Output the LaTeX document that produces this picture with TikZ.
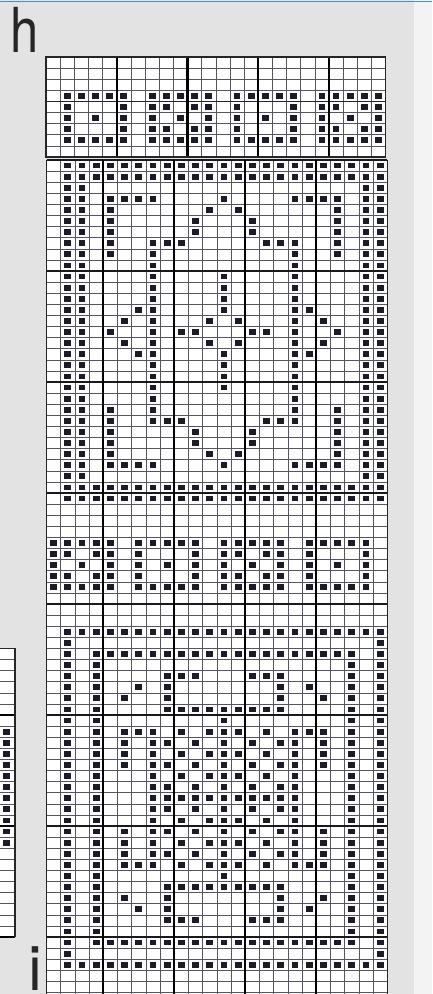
\documentclass[tikz,border=0pt]{standalone}
\usepackage{fontspec}
\setmainfont{TeX Gyre Heros}
\usepackage{xcolor}
\usepackage{tikz}
\definecolor{cInk}{HTML}{1C1C28}
\definecolor{cPaper}{HTML}{E3E3E3}
\definecolor{cRule}{HTML}{55555F}
\definecolor{cScan}{HTML}{4A90C8}
\tikzset{
  gline/.style={draw=cRule,line width=0.6pt},
  mline/.style={draw=black!85,line width=1.2pt},
  hline/.style={draw=black!90,line width=1.5pt},
  tline/.style={draw=black,line width=2.2pt},
  st/.style={fill=cInk},
  gridbox/.style={fill=white},
  lettr/.style={font=\fontsize{62}{62}\selectfont,text=black!85,inner sep=0pt,anchor=base west},
}
\newcommand{\stitch}[2]{\fill[st] ({#1+0.26},{#2+0.24}) rectangle ++(0.48,0.52);}

\begin{document}
\begin{tikzpicture}[x=1pt,y=-1pt]
  \clip (0,0) rectangle (432,994);
  \fill[cPaper] (0,0) rectangle (432,994);
  \fill[cPaper!45!white] (414,0) rectangle (432,994);
  \draw[cScan,line width=1.5pt] (0,1.5) -- (432,1.5);
  \node[lettr,xscale=0.82] (h) at (10,52) {h};
  \node[lettr] (i) at (28,990) {i};

  % top band
  \begin{scope}[xshift=46pt,yshift=-57pt,x=14.15pt,y=-11.1pt]
    \fill[gridbox] (0,0) rectangle (24,9);
    \foreach \i in {0,...,24} \draw[gline] (\i,0) -- (\i,9);
    \foreach \j in {0,...,9} \draw[gline] (0,\j) -- (24,\j);
    \draw[mline] (0,4) -- (24,4);
    \foreach \i in {5,10,15,20} \draw[tline] (\i,0) -- (\i,9);
    \draw[mline] (0,0) rectangle (24,9);
    \foreach \rs/\cs in {{3,7}/{1,2,3,4,5,7,8,9,10,11,13,14,15,16,17,19,20,21,22,23},
                         {4,6}/{1,5,7,8,10,11,13,17,19,20,22,23},
                         {5}/{1,3,5,7,9,11,13,15,17,19,21,23}}
      \foreach \r in \rs {\foreach \c in \cs {\stitch{\c}{\r}}};
  \end{scope}

  % main chart
  \begin{scope}[xshift=46.5pt,yshift=-160pt,x=14.2pt,y=-11.1pt]
    \fill[gridbox] (0,0) rectangle (24,76);
    \foreach \i in {0,...,24} \draw[gline] (\i,0) -- (\i,76);
    \foreach \j in {0,...,76} \draw[gline] (0,\j) -- (24,\j);
    \foreach \j in {0,10,...,70} \draw[hline] (0,\j) -- (24,\j);
    \foreach \i in {4,9,14,19} \draw[tline] (\i,0) -- (\i,76);
    \draw[mline] (0,0) -- (0,76) (24,0) -- (24,76);
    \foreach \rs/\cs in {{0,1,29,30}/{1,...,23},
                         {2,28}/{1,2,22,23},
                         {3,27}/{1,2,4,5,6,7,12,17,18,19,20,22,23},
                         {4,26}/{1,2,4,11,13,20,22,23},
                         {5,6,24,25}/{1,2,4,10,14,20,22,23},
                         {7,23}/{1,2,4,7,8,9,15,16,17,20,22,23},
                         {8,22}/{1,2,4,7,17,20,22,23},
                         {9,21}/{1,2,7,17,22,23},
                         {10,11,12,18,19,20}/{1,2,7,12,17,22,23},
                         {13,17}/{1,2,6,7,12,17,18,22,23},
                         {14,16}/{1,2,5,7,11,13,17,19,22,23},
                         {15}/{1,2,4,7,9,10,14,15,17,20,22,23},
                         {34,38}/{0,1,2,3,4,6,7,8,9,10,12,13,14,15,16,18,19,20,21,22},
                         {35,37}/{0,1,3,4,6,10,12,13,15,16,18,22},
                         {36}/{0,2,4,6,8,10,12,14,16,18,20,22},
                         {42,72}/{1,...,23},
                         {43,71}/{1,23},
                         {44,70}/{1,3,4,...,21,23},
                         {45,69}/{1,3,21,23},
                         {46,68}/{1,3,8,9,10,14,15,16,21,23},
                         {47,67}/{1,3,6,8,16,18,21,23},
                         {48,66}/{1,3,5,8,16,19,21,23},
                         {49,65}/{1,3,8,9,...,16,21,23},
                         {50,64}/{1,3,12,21,23},
                         {51,63}/{1,3,5,6,7,9,11,12,13,15,17,18,19,21,23},
                         {52,54,60,62}/{1,3,5,7,8,10,12,14,16,17,19,21,23},
                         {53,61}/{1,3,5,7,9,11,12,13,15,17,19,21,23},
                         {55,59}/{1,3,7,9,11,12,13,15,17,21,23},
                         {56,58}/{1,3,7,8,10,12,14,16,17,21,23},
                         {57}/{1,3,7,8,...,17,21,23}}
      \foreach \r in \rs {\foreach \c in \cs {\stitch{\c}{\r}}};
  \end{scope}

  % edge of the next chart
  \begin{scope}[xshift=0.8pt,yshift=-160pt,x=14.2pt,y=-11.1pt]
    \fill[gridbox] (-1,44) rectangle (1,70);
    \foreach \j in {44,...,70} \draw[gline] (-1,\j) -- (1,\j);
    \foreach \j in {50,60,70} \draw[tline] (-1,\j) -- (1,\j);
    \draw[mline] (-1,44) -- (1,44) -- (1,70);
    \foreach \r in {51,...,61} \stitch{-0.1}{\r};
  \end{scope}
\end{tikzpicture}
\end{document}
